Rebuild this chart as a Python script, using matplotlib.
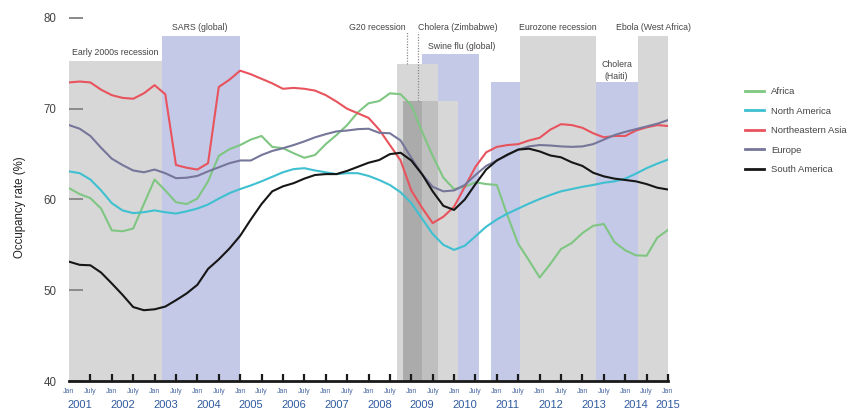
import numpy as np
import pandas as pd
import matplotlib
matplotlib.use("Agg")
import matplotlib.pyplot as plt

# ---------------- data ----------------
dates = pd.date_range("2001-01-01", "2015-01-01", freq="QS")
years = np.asarray(dates.year + (dates.month - 1) / 12.0, dtype=float)

africa = [61.25, 60.6, 60.15, 59.0, 56.6, 56.5, 56.8, 59.5, 62.2, 61.0, 59.7, 59.5, 60.1, 62.0, 64.8,
          65.55, 66.0, 66.6, 67.0, 65.8, 65.65, 65.1, 64.6, 64.9, 66.1, 67.1, 68.2, 69.6, 70.6, 70.85,
          71.7, 71.6, 70.4, 67.5, 64.8, 62.4, 61.15, 61.4, 61.9, 61.7, 61.6, 58.2, 55.1, 53.3, 51.4,
          52.9, 54.55, 55.2, 56.3, 57.1, 57.3, 55.3, 54.4, 53.85, 53.8, 55.8, 56.65]
north_america = [63.1, 62.9, 62.2, 61.0, 59.6, 58.8, 58.5, 58.6, 58.8, 58.6, 58.45, 58.7, 59.0, 59.45, 60.1,
                 60.7, 61.15, 61.55, 62.0, 62.5, 63.0, 63.35, 63.45, 63.2, 63.0, 62.8, 62.9, 62.9, 62.6, 62.15,
                 61.6, 60.8, 59.6, 57.9, 56.2, 55.0, 54.45, 54.9, 55.95, 57.0, 57.8, 58.45, 59.0, 59.55, 60.05,
                 60.5, 60.9, 61.15, 61.4, 61.6, 61.85, 62.0, 62.3, 62.85, 63.45, 63.95, 64.4]
ne_asia = [72.9, 73.0, 72.9, 72.1, 71.5, 71.2, 71.1, 71.7, 72.6, 71.6, 63.8, 63.5, 63.3, 64.0, 72.4,
           73.2, 74.2, 73.8, 73.3, 72.8, 72.2, 72.3, 72.2, 72.0, 71.5, 70.8, 70.0, 69.5, 69.0, 67.7,
           66.0, 64.3, 61.0, 59.1, 57.4, 58.1, 59.2, 61.4, 63.6, 65.2, 65.8, 66.0, 66.1, 66.5, 66.8,
           67.7, 68.3, 68.2, 67.9, 67.3, 66.85, 67.0, 67.0, 67.6, 67.95, 68.2, 68.1]
europe = [68.2, 67.8, 67.0, 65.7, 64.5, 63.8, 63.2, 63.0, 63.3, 62.9, 62.35, 62.4, 62.6, 63.1, 63.55,
          64.0, 64.3, 64.3, 64.9, 65.35, 65.65, 66.0, 66.4, 66.85, 67.2, 67.5, 67.6, 67.75, 67.8, 67.35,
          67.3, 66.5, 64.6, 62.8, 61.4, 60.9, 61.0, 61.6, 62.7, 63.7, 64.3, 64.9, 65.5, 65.85, 66.0,
          65.95, 65.85, 65.8, 65.85, 66.1, 66.6, 67.1, 67.45, 67.75, 68.05, 68.35, 68.75]
south_america = [53.15, 52.8, 52.75, 51.95, 50.75, 49.5, 48.15, 47.8, 47.9, 48.2, 48.9, 49.65, 50.6, 52.35, 53.4,
                 54.6, 56.0, 57.8, 59.5, 60.9, 61.45, 61.8, 62.3, 62.7, 62.8, 62.8, 63.15, 63.6, 64.05, 64.35,
                 65.0, 65.15, 64.3, 62.8, 60.9, 59.3, 58.85, 60.0, 61.7, 63.3, 64.3, 64.95, 65.5, 65.6, 65.3,
                 64.85, 64.65, 64.1, 63.7, 62.95, 62.55, 62.3, 62.15, 62.0, 61.7, 61.3, 61.1]

series_names = ["Africa", "North America", "Northeastern Asia", "Europe", "South America"]
series_values = [africa, north_america, ne_asia, europe, south_america]

event_names = ["Early 2000s recession", "SARS (global)", "G20 recession", "Cholera (Zimbabwe)",
               "Swine flu (global)", "Cholera (Haiti)", "Eurozone recession", "Ebola (West Africa)"]
event_start = [2001.0, 2003.17, 2008.66, 2008.80, 2009.25, 2010.86, 2011.54, 2014.29]
event_end = [2003.17, 2005.0, 2009.62, 2010.09, 2010.58, 2014.29, 2013.31, 2015.0]
event_top = [75.3, 78.0, 74.9, 70.8, 76.0, 72.9, 78.0, 78.0]

y_ticks = [40, 50, 60, 70, 80]
year_labels = [str(y) for y in range(2001, 2016)]

# ---------------- style ----------------
line_colors = {"Africa": "#7fc682", "North America": "#3fc0d0", "Northeastern Asia": "#e8535d",
               "Europe": "#76769a", "South America": "#161616"}
GREY, BLUE, DARK, MID = "#d7d7d7", "#c3c9e6", "#ababab", "#bfbfbf"
event_color = {"Early 2000s recession": GREY, "SARS (global)": BLUE, "G20 recession": GREY,
               "Cholera (Zimbabwe)": GREY, "Swine flu (global)": BLUE, "Cholera (Haiti)": BLUE,
               "Eurozone recession": GREY, "Ebola (West Africa)": GREY}
# label layout: (x, y, ha, va, text)
label_layout = {
    "Early 2000s recession": (2001.08, 75.65, "left", "bottom", "Early 2000s recession"),
    "SARS (global)": (2004.06, 78.45, "center", "bottom", "SARS (global)"),
    "G20 recession": (2008.86, 79.0, "right", "center", "G20 recession"),
    "Cholera (Zimbabwe)": (2009.15, 79.0, "left", "center", "Cholera (Zimbabwe)"),
    "Swine flu (global)": (2009.38, 76.35, "left", "bottom", "Swine flu (global)"),
    "Cholera (Haiti)": (2013.8, 73.1, "center", "bottom", "Cholera\n(Haiti)"),
    "Eurozone recession": (2012.43, 79.0, "center", "center", "Eurozone recession"),
    "Ebola (West Africa)": (2014.65, 79.0, "center", "center", "Ebola (West Africa)"),
}
dotted = {"G20 recession": 2008.90, "Cholera (Zimbabwe)": 2009.15}

FONT = ["Liberation Sans", "DejaVu Sans"]
plt.rcParams["font.family"] = FONT

fig = plt.figure(figsize=(8.52, 4.11), dpi=100)
ax = fig.add_axes([69 / 852, 30 / 411, 599 / 852, 363 / 411])
ax.set_xlim(2001, 2015)
ax.set_ylim(40, 80)
ymin = 40

# event bands: blue first, grey on top
for order, want in ((0.2, BLUE), (0.4, GREY)):
    for n, s, e, t in zip(event_names, event_start, event_end, event_top):
        if event_color[n] == want:
            ax.bar(s, t - ymin, width=e - s, bottom=ymin, align="edge", color=want,
                   linewidth=0, zorder=order)

# overlaps of grey bands are darker; where a blue band also lies beneath, mid grey
greys = [i for i, n in enumerate(event_names) if event_color[n] == GREY]
blues = [i for i, n in enumerate(event_names) if event_color[n] == BLUE]
for a in range(len(greys)):
    for b in range(a + 1, len(greys)):
        i, j = greys[a], greys[b]
        s = max(event_start[i], event_start[j]); e = min(event_end[i], event_end[j])
        if e - s > 1e-6:
            t = min(event_top[i], event_top[j])
            ax.bar(s, t - ymin, width=e - s, bottom=ymin, align="edge", color=DARK, linewidth=0, zorder=0.5)
            for k in blues:
                s2 = max(s, event_start[k]); e2 = min(e, event_end[k])
                if e2 - s2 > 1e-6:
                    t2 = min(t, event_top[k])
                    ax.bar(s2, t2 - ymin, width=e2 - s2, bottom=ymin, align="edge", color=MID,
                           linewidth=0, zorder=0.6)

for n, t in zip(event_names, event_top):
    x, y, ha, va, txt = label_layout[n]
    ax.text(x, y, txt, ha=ha, va=va, fontsize=6.3, color="#444444",
            linespacing=1.35, zorder=5)
    if n in dotted:
        ax.plot([dotted[n], dotted[n]], [t, 78.45], ls=(0, (1, 1.2)), color="#8a8a8a", lw=0.9, zorder=0.7)

# lines
for n, v in zip(series_names, series_values):
    ax.plot(years, v, color=line_colors[n], lw=1.5, label=n, zorder=3)

# axes styling
for sp in ("left", "right", "top"):
    ax.spines[sp].set_visible(False)
ax.spines["bottom"].set_linewidth(2.0)
ax.spines["bottom"].set_color("#1a1a1a")
ax.spines["bottom"].set_zorder(4)

ax.set_yticks(y_ticks)
ax.set_yticklabels([str(v) for v in y_ticks])
ax.tick_params(axis="y", direction="in", length=10, width=1.4, color="#8a8a8a", pad=9,
               labelsize=8.3, labelcolor="#444444")

half_years = np.arange(2001, 2015.01, 0.5)
ax.set_xticks(half_years)
ax.set_xticklabels(["Jan" if abs(h - round(h)) < 1e-6 else "July" for h in half_years])
ax.tick_params(axis="x", direction="in", length=5, width=1.6, color="#1a1a1a", pad=5,
               labelsize=5.0, labelcolor="#4a69a3")
ax.xaxis.get_major_ticks()[0].tick1line.set_visible(False)

for i, yl in enumerate(year_labels):
    x = 2001 + i
    ha = "center" if i == len(year_labels) - 1 else "left"
    ax.annotate(yl, xy=(x, 0), xycoords=("data", "axes fraction"), xytext=(-1 if ha == "left" else 0, -17),
                textcoords="offset points", ha=ha, va="center", fontsize=8, color="#2f5a9e",
                annotation_clip=False)

ax.set_ylabel("Occupancy rate (%)", fontsize=8.3, color="#222222")
ax.yaxis.set_label_coords(-0.072, 0.48)

leg = fig.legend(loc="upper left", bbox_to_anchor=(745 / 852, 1 - 87 / 411), frameon=False,
                 handlelength=2.0, handletextpad=0.8, labelspacing=1.12,
                 borderpad=0, borderaxespad=0, prop={"size": 6.8})
for tx in leg.get_texts():
    tx.set_color("#444444")
for lh in leg.get_lines():
    lh.set_linewidth(2.0)

fig.savefig("out.png", dpi=100)
